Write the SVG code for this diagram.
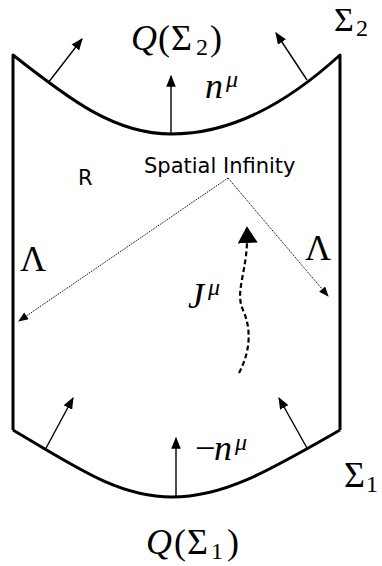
<svg xmlns="http://www.w3.org/2000/svg" width="382" height="566" viewBox="0 0 382 566">
<style>
.m{font-family:"Liberation Serif","Times New Roman",serif;font-size:36px;fill:#000}
.i{font-style:italic}
.s{font-size:24px}
.sans{font-family:"DejaVu Sans",sans-serif;font-size:21px;fill:#000}
.bd{fill:none;stroke:#000;stroke-width:3;stroke-linejoin:round}
.ar{fill:none;stroke:#000;stroke-width:1.4}
.dt{fill:none;stroke:#000;stroke-width:1;stroke-dasharray:1.2,1}
.ds{fill:none;stroke:#000;stroke-width:2.2;stroke-dasharray:5,3}
</style>
<defs>
<marker id="ah" viewBox="0 0 10 8" refX="9" refY="4" markerWidth="12" markerHeight="10" markerUnits="userSpaceOnUse" orient="auto"><path d="M0,0 L10,4 L0,8 z" fill="#000"/></marker>
<marker id="as" viewBox="0 0 10 8" refX="9" refY="4" markerWidth="11" markerHeight="8" markerUnits="userSpaceOnUse" orient="auto"><path d="M0,0 L10,4 L0,8 z" fill="#000"/></marker>
<marker id="ab" viewBox="0 0 10 12" refX="9" refY="6" markerWidth="17" markerHeight="20" markerUnits="userSpaceOnUse" orient="auto"><path d="M0,0 L10,6 L0,12 z" fill="#000"/></marker>
</defs>
<g id="region">
<path class="bd" d="M13,430 L13,55 C70,100 115,134 171,134 C230,134 285,105 340,55 L340,430"/>
<path class="bd" d="M13,430 C80,470 120,497 172,497 C225,497 270,470 340,430"/>
</g>
<g id="connectors">
<line class="ar" x1="48" y1="83" x2="82" y2="39" marker-end="url(#ah)"/>
<line class="ar" x1="171" y1="134" x2="171" y2="76" marker-end="url(#ah)"/>
<line class="ar" x1="307" y1="80" x2="276" y2="33" marker-end="url(#ah)"/>
<line class="ar" x1="45" y1="450" x2="73" y2="398" marker-end="url(#ah)"/>
<line class="ar" x1="176" y1="497" x2="176" y2="438" marker-end="url(#ah)"/>
<line class="ar" x1="307" y1="448" x2="279" y2="398" marker-end="url(#ah)"/>
<path class="dt" d="M228,178 L19,321" marker-end="url(#as)"/>
<path class="dt" d="M228,178 L328,296" marker-end="url(#as)"/>
<path class="ds" d="M239,373 C250,352 252,330 243,310 C234,290 249,270 247,228" marker-end="url(#ab)"/>
</g>
<g id="labels">
<text class="m" y="50"><tspan x="131" class="i">Q</tspan><tspan x="158">(</tspan><tspan x="171">Σ</tspan><tspan x="196" class="s" dy="5">2</tspan><tspan x="210" dy="-5">)</tspan></text>
<text class="m" y="31" style="font-size:34px"><tspan x="334">Σ</tspan><tspan x="356" class="s" dy="5">2</tspan></text>
<text class="m" y="98"><tspan x="205" class="i">n</tspan><tspan x="226" class="s i" dy="-11">μ</tspan></text>
<text class="sans" x="78" y="185">R</text>
<text class="sans" x="144" y="173">Spatial Infinity</text>
<text class="m" x="20" y="271">Λ</text>
<text class="m" x="305" y="260">Λ</text>
<text class="m" y="308"><tspan x="188" class="i">J</tspan><tspan x="208" class="s i" dy="-13">μ</tspan></text>
<text class="m" y="460"><tspan x="195">−</tspan><tspan x="214" class="i">n</tspan><tspan x="235" class="s i" dy="-10">μ</tspan></text>
<text class="m" y="487"><tspan x="344">Σ</tspan><tspan x="366" class="s" dy="5">1</tspan></text>
<text class="m" y="554"><tspan x="146" class="i">Q</tspan><tspan x="174">(</tspan><tspan x="187">Σ</tspan><tspan x="211" class="s" dy="5">1</tspan><tspan x="227" dy="-5">)</tspan></text>
</g>
</svg>
